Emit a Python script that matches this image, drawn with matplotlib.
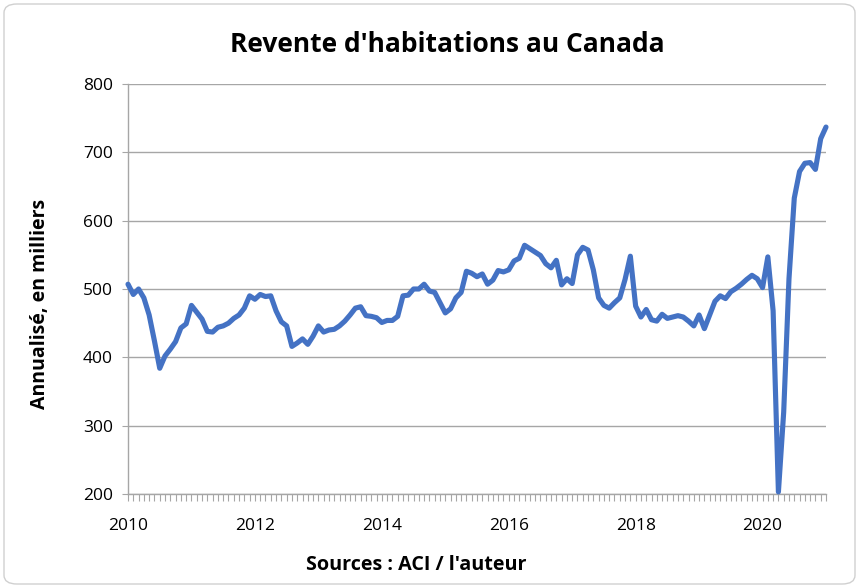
import matplotlib
matplotlib.use("Agg")
import matplotlib.pyplot as plt
from matplotlib.patches import FancyBboxPatch
import numpy as np

# Monthly annualized home resales (thousands), Jan 2010 .. Jan 2021
resales = [
    507, 492, 500, 487, 462, 424, 384, 402, 412, 423, 443, 449,   # 2010
    476, 466, 456, 438, 437, 444, 446, 450, 457, 462, 472, 490,   # 2011
    485, 492, 489, 490, 468, 452, 446, 416, 421, 427, 419, 431,   # 2012
    446, 437, 440, 441, 446, 453, 462, 472, 474, 461, 460, 458,   # 2013
    451, 454, 454, 460, 490, 491, 500, 500, 507, 497, 495, 480,   # 2014
    465, 471, 487, 495, 526, 523, 518, 522, 507, 513, 527, 525,   # 2015
    528, 541, 545, 564, 559, 554, 549, 537, 531, 542, 506, 515,   # 2016
    508, 550, 561, 557, 528, 487, 476, 472, 480, 487, 514, 548,   # 2017
    475, 459, 470, 455, 453, 463, 457, 459, 461, 459, 453, 446,   # 2018
    462, 442, 462, 482, 490, 486, 496, 501, 507, 514, 520, 515,   # 2019
    502, 547, 468, 203, 320, 515, 633, 672, 684, 685, 675, 720,   # 2020
    737,                                                          # 2021
]
year_labels = ["2010", "2012", "2014", "2016", "2018", "2020"]
y_ticks = [200, 300, 400, 500, 600, 700, 800]

title = "Revente d'habitations au Canada"
ylabel = "Annualisé, en milliers"
xlabel = "Sources : ACI / l'auteur"

plt.rcParams['font.family'] = ['Open Sans', 'DejaVu Sans']

W, H = 859, 588
fig = plt.figure(figsize=(W / 100, H / 100), dpi=100)

# plot area in pixels
left, right, top, bottom = 128, 826, 84, 494
ax = fig.add_axes([left / W, 1 - bottom / H, (right - left) / W, (bottom - top) / H])

x = np.arange(len(resales))
ax.plot(x, resales, color="#4472C4", lw=3.7, solid_joinstyle="round",
        solid_capstyle="round", zorder=3, clip_on=False)

ax.set_xlim(0, 132)
ax.set_ylim(200, 800)
ax.set_yticks(y_ticks)
ax.set_yticklabels([str(v) for v in y_ticks], fontsize=12.5)
ax.set_xticks(np.arange(0, 121, 24))
ax.set_xticklabels(year_labels, fontsize=12.5)
ax.set_xticks(np.arange(0, 133, 1), minor=True)

ax.grid(axis="y", color="#A6A6A6", lw=1.0, zorder=0)
for s in ["top", "right"]:
    ax.spines[s].set_visible(False)
for s in ["left", "bottom"]:
    ax.spines[s].set_color("#A6A6A6")
    ax.spines[s].set_linewidth(1.0)

ax.tick_params(axis="y", which="major", length=4, color="#A6A6A6", pad=7)
ax.tick_params(axis="x", which="major", length=5, color="#A6A6A6", pad=12)
ax.tick_params(axis="x", which="minor", length=5, color="#A6A6A6", width=0.8)

fig.text(447 / W, 1 - 45 / H, title, ha="center", va="center",
         fontsize=19, fontweight="bold")
fig.text(40 / W, 1 - 304 / H, ylabel, ha="center", va="center",
         rotation=90, fontsize=14, fontweight="bold")
fig.text(416 / W, 1 - 565 / H, xlabel, ha="center", va="center",
         fontsize=14.2, fontweight="bold")

border = FancyBboxPatch((4 / W, 4 / H), (W - 8) / W, (H - 8) / H,
                        boxstyle="round,pad=0,rounding_size=0.015",
                        transform=fig.transFigure, fill=False,
                        edgecolor="#D0D0D0", lw=1.0)
fig.patches.append(border)

fig.savefig("out.png", dpi=100)
